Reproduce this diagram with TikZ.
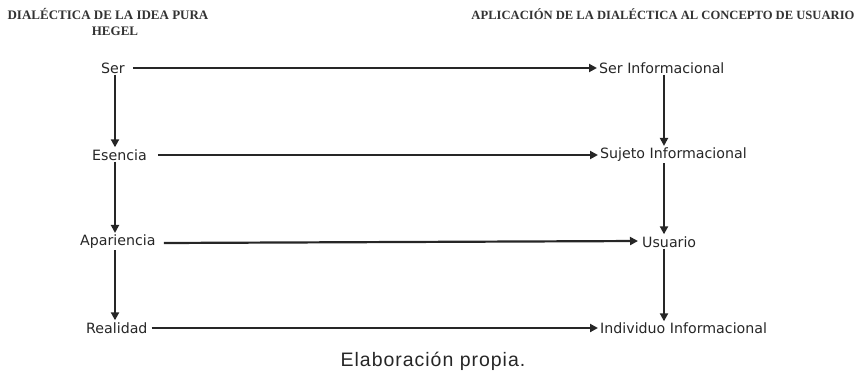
\documentclass[tikz,border=0pt]{standalone}
\usepackage{fontspec}
\setmainfont{DejaVu Sans}
\newfontfamily\hdrfont{Liberation Serif}
\newfontfamily\capfont[LetterSpace=5]{Liberation Sans}
\usetikzlibrary{arrows.meta}
\begin{document}
\begin{tikzpicture}[x=1pt,y=-1pt,
  lbl/.style={inner sep=0pt,anchor=west,font=\fontsize{14.2}{16}\selectfont,text=black!85},
  hdr/.style={inner sep=0pt,font=\hdrfont\bfseries\fontsize{13}{15}\selectfont,text=black!80},
  conn/.style={line width=2.2pt,draw=black!85,-{Triangle[length=8pt,width=8pt]}}]
\useasboundingbox (0,0) rectangle (865,373);
\node[hdr] (h1) at (108,14) {DIALÉCTICA DE LA IDEA PURA};
\node[hdr] (h2) at (115,31) {HEGEL};
\node[hdr,font=\hdrfont\bfseries\fontsize{12.6}{15}\selectfont] (h3) at (663,14) {APLICACIÓN DE LA DIALÉCTICA AL CONCEPTO DE USUARIO};
\node[lbl] (ser) at (101,68) {Ser};
\node[lbl] (esen) at (92,155) {Esencia};
\node[lbl] (apar) at (80,242) {Apariencia};
\node[lbl] (real) at (86,328) {Realidad};
\node[lbl] (seri) at (599,68) {Ser Informacional};
\node[lbl] (suj) at (600,155) {Sujeto Informacional};
\node[lbl] (usu) at (642,242) {Usuario};
\node[lbl] (ind) at (600,328) {Individuo Informacional};
\coordinate (lx) at (115,0);
\coordinate (rx) at (664,0);
\draw[conn] ([yshift=-1pt]ser.south -| lx) -- ([yshift=2pt]esen.north -| lx);
\draw[conn] ([yshift=-1pt]esen.south -| lx) -- ([yshift=2pt]apar.north -| lx);
\draw[conn] ([yshift=-1pt]apar.south -| lx) -- ([yshift=2pt]real.north -| lx);
\draw[conn] ([yshift=-1pt]seri.south -| rx) -- ([yshift=2pt]suj.north -| rx);
\draw[conn] ([yshift=-1pt]suj.south -| rx) -- ([yshift=2pt]usu.north -| rx);
\draw[conn] ([yshift=-1pt]usu.south -| rx) -- ([yshift=1pt]ind.north -| rx);
\draw[conn] ([xshift=8pt]ser.east) -- ([xshift=-2pt]seri.west);
\draw[conn] ([xshift=11pt]esen.east) -- ([xshift=-2pt]suj.west);
\draw[conn] ([xshift=8pt,yshift=-1pt]apar.east) -- ([xshift=-4pt,yshift=1pt]usu.west);
\draw[conn] ([xshift=4pt]real.east) -- ([xshift=-2pt]ind.west);
\node[inner sep=0pt,anchor=base,font=\capfont\fontsize{19.5}{22}\selectfont,text=black!85] (cap) at (433,366.5) {Elaboración propia.};
\end{tikzpicture}
\end{document}
